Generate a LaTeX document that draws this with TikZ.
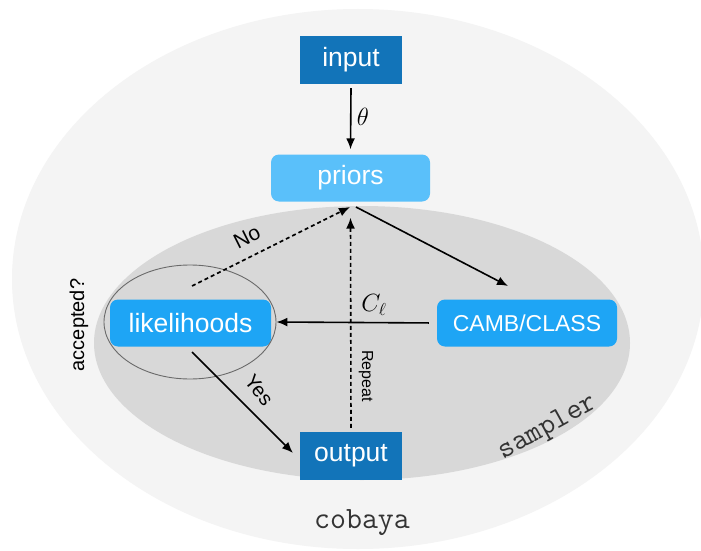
\documentclass[tikz,border=0pt]{standalone}
\usepackage{fontspec}
\setmainfont{Liberation Sans}
\usetikzlibrary{arrows.meta,shapes.geometric,calc}
\definecolor{outerc}{HTML}{F4F4F4}
\definecolor{innerc}{HTML}{D8D8D8}
\definecolor{darkblue}{HTML}{1274B9}
\definecolor{lightblue}{HTML}{5AC0FA}
\definecolor{midblue}{HTML}{1EA5F5}
\definecolor{ringc}{HTML}{6A6A6A}
\definecolor{monotext}{HTML}{333333}
\tikzset{
  sqbox/.style={fill=darkblue, text=white, minimum width=102pt, minimum height=48pt, inner sep=0pt, font=\fontsize{26.5}{30}\selectfont},
  rbox/.style={fill=midblue, text=white, rounded corners=8pt, minimum height=47pt, inner sep=0pt, font=\fontsize{26.5}{30}\selectfont},
  arr/.style={line width=1.6pt, -{Latex[length=11pt,width=9pt]}},
  darr/.style={arr, dash pattern=on 4pt off 3pt},
  lab/.style={font=\fontsize{20}{22}\selectfont, inner sep=0pt},
}
\begin{document}
\begin{tikzpicture}[x=1pt,y=-1pt]
\useasboundingbox (0,0) rectangle (701,551);
\fill[white] (0,0) rectangle (701,551);
\fill[outerc] (358,279) ellipse [x radius=346, y radius=270];
\fill[innerc] (362,343) ellipse [x radius=268, y radius=137];

\node[sqbox] (input) at (351,60) {input};
\node[rbox, fill=lightblue, minimum width=159pt] (priors) at (350.5,178) {priors};
\node[rbox, minimum width=161pt] (lik) at (190.5,323) {likelihoods};
\node[rbox, minimum width=180pt, font=\fontsize{23}{26}\selectfont] (camb) at (527,323) {CAMB/CLASS};
\node[sqbox] (output) at (351,456) {output};
\node[draw=ringc, line width=0.9pt, ellipse, minimum width=172pt, minimum height=114pt, inner sep=0pt] (acc) at (190,322) {};

\coordinate (nostart) at (192,286);
\coordinate (noend) at (350,207);
\coordinate (cstart) at (356,207);
\coordinate (cend) at (508,286);
\coordinate (ystart) at (192,352);
\coordinate (yend) at (293,453);

\draw[arr] ($(input.south)+(0,4)$) -- ($(priors.north)+(0,-5)$);
\draw[arr] (cstart) -- (cend);
\draw[arr, shorten <=8pt] (camb.west) -- (acc.east);
\draw[darr] (nostart) -- (noend);
\draw[darr] ($(output.north)+(0,-4)$) -- ($(priors.south)+(0,16)$);
\draw[arr] (ystart) -- (yend);

\node[lab, font=\fontsize{25}{27}\selectfont] (theta) at (363,117) {$\theta$};
\node[lab, font=\fontsize{23}{26}\selectfont] (cl) at (374,305) {$C_\ell$};
\node[lab, rotate=26.6, font=\fontsize{21}{23}\selectfont] (no) at (247,237) {No};
\node[lab, rotate=-52] (yes) at (259,390) {Yes};
\node[lab, rotate=-90, font=\fontsize{16}{18}\selectfont] (rep) at (366,376) {Repeat};
\node[lab, rotate=90] (accq) at (79,325) {accepted?};
\node[lab, rotate=29, text=monotext, font=\ttfamily\fontsize{30}{32}\selectfont] (samp) at (548,428) {sampler};
\node[lab, text=monotext, font=\ttfamily\fontsize{31}{33}\selectfont] (cob) at (362,523) {cobaya};
\end{tikzpicture}
\end{document}
